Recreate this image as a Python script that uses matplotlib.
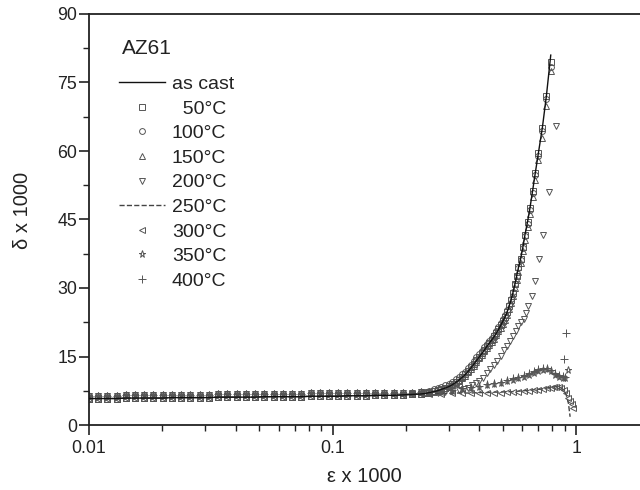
import matplotlib
matplotlib.use("Agg")
import matplotlib.pyplot as plt
from matplotlib.ticker import MultipleLocator, LogLocator, NullFormatter, FixedLocator, FixedFormatter

plt.rcParams['font.family'] = ['Liberation Sans', 'DejaVu Sans']

# ---------------- data ----------------
# flat (elastic) part shared x positions
x_flat = [0.0100, 0.0109, 0.0119, 0.0130, 0.0142, 0.0155, 0.0169, 0.0184, 0.0201, 0.0219,
          0.0239, 0.0261, 0.0285, 0.0311, 0.0339, 0.0370, 0.0404, 0.0441, 0.0481, 0.0525,
          0.0573, 0.0625, 0.0682, 0.0744, 0.0812, 0.0886, 0.0967, 0.1055, 0.1151, 0.1256,
          0.1371, 0.1496, 0.1632, 0.1781, 0.1943, 0.2120, 0.2313]
y_flat_a = [5.8, 5.8, 5.8, 5.8, 5.9, 5.9, 5.9, 5.9, 5.9, 6.0, 6.0, 6.0, 6.0, 6.0, 6.1, 6.1, 6.1, 6.1, 6.1,
            6.2, 6.2, 6.2, 6.2, 6.2, 6.3, 6.3, 6.3, 6.3, 6.4, 6.4, 6.4, 6.5, 6.5, 6.5, 6.6, 6.7, 6.8]
y_flat_b = [6.4, 6.4, 6.4, 6.4, 6.5, 6.5, 6.5, 6.5, 6.5, 6.6, 6.6, 6.6, 6.6, 6.6, 6.7, 6.7, 6.7, 6.7, 6.7,
            6.8, 6.8, 6.8, 6.8, 6.8, 6.9, 6.9, 6.9, 6.9, 7.0, 7.0, 7.0, 7.0, 7.1, 7.1, 7.1, 7.1, 7.2]

# main rising curve (as cast, 50, 100, 150 C)
x_rise = [0.24, 0.25, 0.26, 0.27, 0.28, 0.29, 0.30, 0.31, 0.32, 0.33, 0.34, 0.35, 0.36, 0.37,
          0.38, 0.39, 0.40, 0.41, 0.42, 0.43, 0.44, 0.45, 0.46, 0.47, 0.48, 0.49, 0.50, 0.51,
          0.52, 0.53, 0.54, 0.55, 0.56, 0.57, 0.58, 0.592, 0.605, 0.617, 0.632, 0.647, 0.663,
          0.68, 0.70, 0.727, 0.755, 0.787]
y_ascast_rise = [6.9, 7.1, 7.3, 7.5, 7.8, 8.1, 8.4, 8.8, 9.3, 9.8, 10.4, 11.0, 11.7, 12.5,
                 13.3, 14.1, 14.9, 15.6, 16.4, 17.2, 17.9, 18.6, 19.3, 20.1, 20.9, 21.8, 22.7, 23.6,
                 24.6, 25.9, 27.3, 28.9, 30.7, 32.6, 34.5, 36.4, 39.0, 41.7, 44.5, 47.6, 51.3,
                 55.2, 59.5, 65.1, 72.0, 81.0]
y_50_rise = [7.0, 7.2, 7.4, 7.6, 7.9, 8.2, 8.5, 8.9, 9.4, 9.9, 10.5, 11.1, 11.8, 12.6,
             13.4, 14.2, 15.0, 15.7, 16.5, 17.3, 18.0, 18.7, 19.4, 20.2, 21.0, 21.9, 22.8, 23.7,
             24.7, 26.0, 27.4, 29.0, 30.8, 32.7, 34.6, 36.4, 39.0, 41.7, 44.5, 47.6, 51.3,
             55.2, 59.5, 65.1, 72.0, 79.4]
y_100_rise = [7.3, 7.5, 7.8, 8.0, 8.3, 8.7, 9.0, 9.5, 10.0, 10.5, 11.1, 11.7, 12.4, 13.2,
              14.0, 14.8, 15.5, 16.2, 17.0, 17.7, 18.4, 19.1, 19.8, 20.6, 21.4, 22.3, 23.2, 24.1,
              25.1, 26.3, 27.6, 29.1, 30.8, 32.6, 34.4, 36.2, 38.7, 41.3, 44.1, 47.1, 50.8,
              54.7, 59.0, 64.4, 71.3, 78.5]
y_150_rise = [6.9, 7.0, 7.2, 7.4, 7.7, 8.0, 8.3, 8.7, 9.1, 9.6, 10.2, 10.8, 11.5, 12.2,
              13.0, 13.8, 14.6, 15.3, 16.1, 16.8, 17.5, 18.2, 18.9, 19.7, 20.5, 21.3, 22.2, 23.1,
              24.1, 25.3, 26.7, 28.2, 29.9, 31.7, 33.6, 35.4, 38.0, 40.6, 43.3, 46.3, 49.9,
              53.7, 58.0, 62.9, 69.8, 77.6]

# second rising curve (200 C)
x_200_rise = [0.25, 0.27, 0.29, 0.31, 0.33, 0.345, 0.36, 0.375, 0.39, 0.40, 0.415, 0.43,
              0.445, 0.46, 0.475, 0.49, 0.505, 0.52, 0.535, 0.55, 0.565, 0.58, 0.595, 0.61,
              0.623, 0.636, 0.657, 0.678, 0.704, 0.734, 0.774, 0.825]
y_200_rise = [7.0, 7.1, 7.2, 7.4, 7.6, 7.9, 8.2, 8.7, 9.3, 9.7, 10.4, 11.3,
              12.2, 13.1, 14.1, 15.1, 16.4, 17.4, 18.4, 19.4, 20.6, 21.7, 22.6, 23.3,
              24.6, 26.0, 28.3, 31.5, 36.4, 41.5, 51.0, 65.5]

# low curve B (250, 300 C)
x_low = [0.25, 0.28, 0.31, 0.34, 0.37, 0.40, 0.43, 0.46, 0.49, 0.52, 0.55, 0.58, 0.61,
         0.64, 0.67, 0.70, 0.73, 0.76, 0.79, 0.81, 0.83, 0.85, 0.87, 0.89, 0.91, 0.93,
         0.945, 0.96, 0.975]
y_250_low = [6.9, 6.9, 7.0, 7.0, 7.0, 7.1, 7.1, 7.2, 7.2, 7.3, 7.3, 7.4, 7.5,
             7.6, 7.7, 7.8, 7.9, 8.1, 8.3, 8.4, 8.4, 8.3, 8.1, 7.6, 6.7, 4.8,
             1.8, float('nan'), float('nan')]
y_300_low = [6.8, 6.8, 6.9, 6.9, 6.9, 7.0, 7.0, 7.1, 7.1, 7.2, 7.2, 7.3, 7.4,
             7.5, 7.6, 7.7, 7.8, 8.0, 8.2, 8.3, 8.4, 8.3, 8.1, 7.7, 7.0, 6.0,
             5.2, 4.6, 3.7]

# mid curve A (350, 400 C)
x_mid = [0.25, 0.28, 0.31, 0.34, 0.37, 0.40, 0.43, 0.46, 0.49, 0.52, 0.55, 0.58, 0.61,
         0.64, 0.67, 0.70, 0.73, 0.76, 0.79, 0.82, 0.85, 0.88, 0.90]
y_350_mid = [7.0, 7.2, 7.5, 7.8, 8.1, 8.4, 8.7, 9.0, 9.3, 9.6, 9.9, 10.2, 10.5,
             10.9, 11.4, 11.8, 12.1, 12.2, 11.8, 11.0, 10.5, 10.3, 10.2]
y_400_mid = [7.2, 7.4, 7.7, 8.0, 8.3, 8.6, 8.9, 9.2, 9.5, 9.8, 10.2, 10.5, 10.9,
             11.3, 11.8, 12.2, 12.5, 12.5, 12.1, 11.4, 10.9, 10.7, 10.6]
x_350_end = [0.93]
y_350_end = [12.1]
x_400_end = [0.893, 0.91]
y_400_end = [14.5, 20.1]

labels = ["as cast", "  50°C", "100°C", "150°C", "200°C", "250°C", "300°C", "350°C", "400°C"]
legend_title = "AZ61"

x_ticks = [0.01, 0.1, 1]
x_ticklabels = ["0.01", "0.1", "1"]
y_ticks = [0, 15, 30, 45, 60, 75, 90]

# ---------------- figure ----------------
fig = plt.figure(figsize=(6.4, 4.9), dpi=100)
ax = fig.add_axes([89/640, 65/490, 1 - 89/640, (425 - 14)/490])

mc = '#555555'
ms = 4.2
mew = 0.7
mk = dict(ms=ms, mfc='none', mec=mc, mew=mew, ls='none')

ax.plot(x_flat + x_rise, y_flat_a + y_ascast_rise, '-', color='#111111', lw=1.0,
        label=labels[0], zorder=5)
ax.plot(x_flat + x_rise, y_flat_a + y_50_rise, marker='s', label=labels[1], **dict(mk, ms=ms - 0.4))
ax.plot(x_flat + x_rise, y_flat_b + y_100_rise, marker='o', label=labels[2], **mk)
ax.plot(x_flat + x_rise, y_flat_a + y_150_rise, marker='^', label=labels[3], **mk)
ax.plot(x_flat + x_200_rise, y_flat_b + y_200_rise, marker='v', label=labels[4], **mk)
ax.plot(x_flat + x_low, y_flat_a + y_250_low, '--', color='#444444', lw=1.0, label=labels[5])
ax.plot(x_flat + x_low, y_flat_a + y_300_low, marker='<', label=labels[6], **mk)
ax.plot(x_flat + x_mid + x_350_end, y_flat_b + y_350_mid + y_350_end, marker='*',
        label=labels[7], **dict(mk, ms=ms + 1.0))
ax.plot(x_flat + x_mid + x_400_end, y_flat_b + y_400_mid + y_400_end, marker='+',
        ls='none', ms=ms + 1.0, color=mc, mew=mew, label=labels[8])

ax.set_xscale('log')
ax.set_xlim(0.01, 1.83)
ax.set_ylim(0, 90)

ax.xaxis.set_major_locator(FixedLocator(x_ticks))
ax.xaxis.set_major_formatter(FixedFormatter(x_ticklabels))
ax.xaxis.set_minor_locator(LogLocator(base=10, subs=[2, 3, 4, 5, 6, 7, 8, 9]))
ax.xaxis.set_minor_formatter(NullFormatter())
ax.yaxis.set_major_locator(FixedLocator(y_ticks))
ax.yaxis.set_minor_locator(MultipleLocator(7.5))

for s in ['left', 'bottom', 'top']:
    ax.spines[s].set_linewidth(1.3)
    ax.spines[s].set_color('#222222')
ax.spines['right'].set_visible(False)

ax.tick_params(which='major', direction='out', length=7, width=1.2, labelsize=12.8,
               colors='#222222', top=False, right=False)
ax.tick_params(which='minor', direction='out', length=4, width=1.0, colors='#222222',
               top=False, right=False)
ax.tick_params(axis='x', pad=4)
ax.tick_params(axis='y', pad=1.5)

ax.set_xlabel("ε x 1000", fontsize=14.5, color='#222222', labelpad=7)
ax.set_ylabel("δ x 1000", fontsize=14.5, color='#222222', labelpad=18)
ax.yaxis.label.set_y(0.522)

ax.text(122/640, 1 - 49/490, legend_title, transform=fig.transFigure, fontsize=15,
        color='#222222', ha='left', va='center')

leg = ax.legend(loc='upper left', frameon=False, fontsize=14, handlelength=2.4,
                handletextpad=0.35, labelspacing=0.36, borderaxespad=0.0, borderpad=0.3,
                bbox_to_anchor=(0.043, 0.865))
for t in leg.get_texts():
    t.set_color('#222222')

fig.savefig("out.png", dpi=100)
